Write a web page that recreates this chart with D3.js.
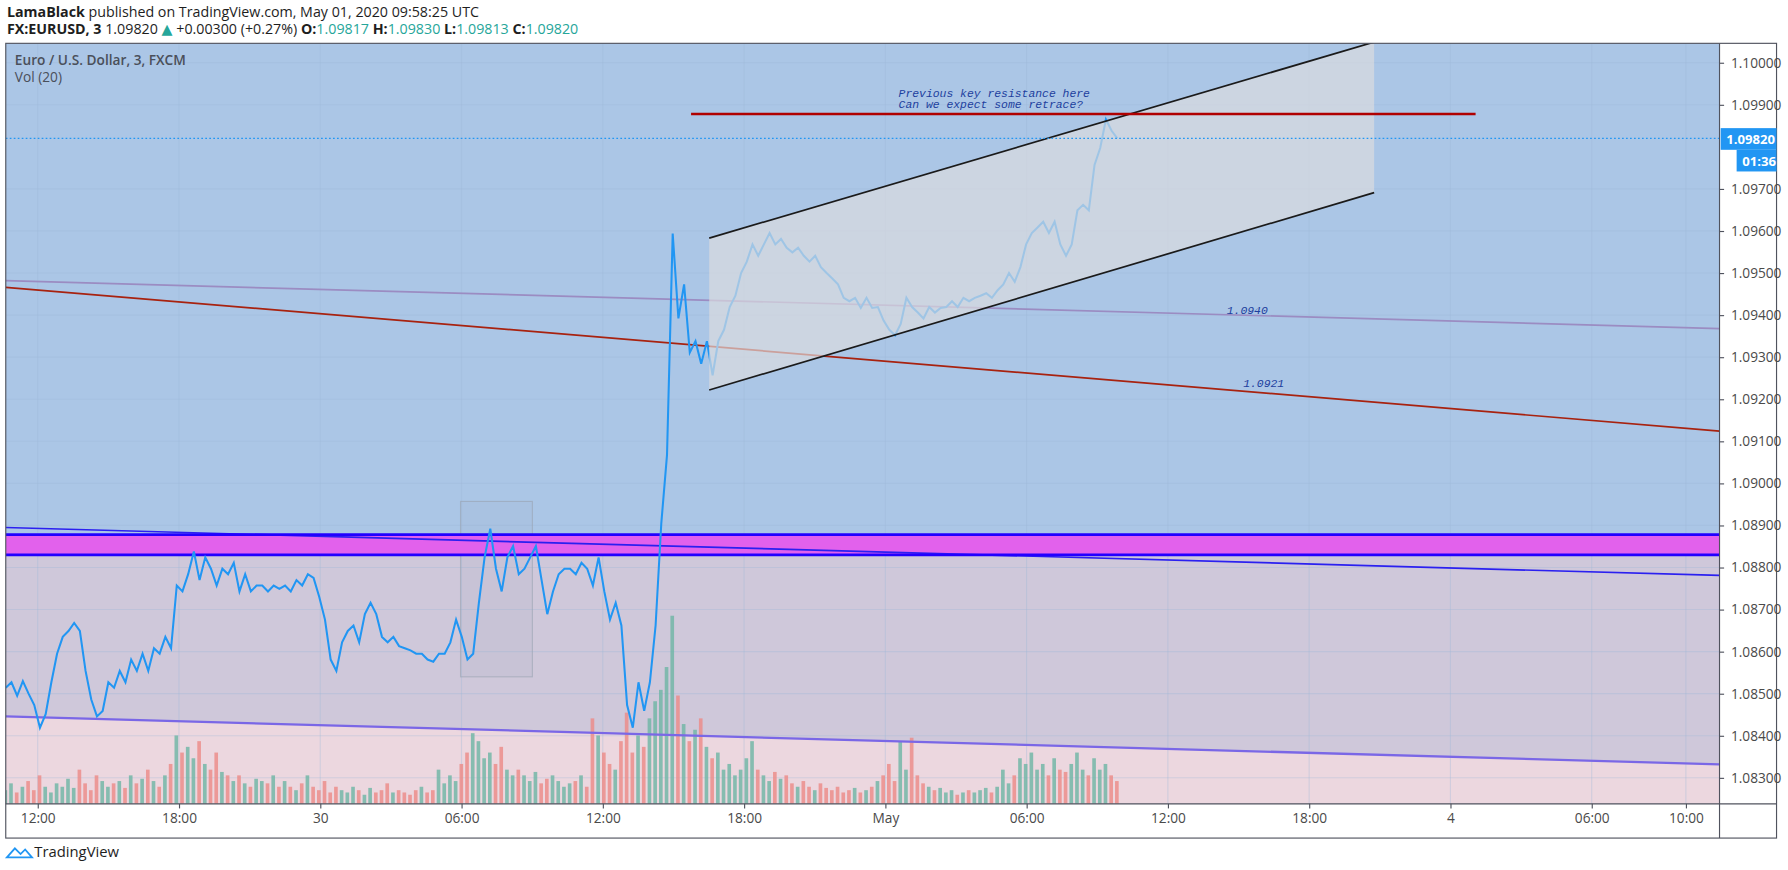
<!DOCTYPE html>
<html>
<head>
<meta charset="utf-8">
<script src="https://cdn.jsdelivr.net/npm/d3@7"></script>
<style>
  body { margin: 0; background: #fff; font-family: "Open Sans", "DejaVu Sans", sans-serif; }
</style>
</head>
<body>
<svg id="chart" width="1788" height="870" viewBox="0 0 1568 763"></svg>
<script>
// EUR/USD 3-min chart, FXCM
const priceTicks = [1.083, 1.084, 1.085, 1.086, 1.087, 1.088, 1.089, 1.090, 1.091, 1.092, 1.093, 1.094, 1.095, 1.096, 1.097, 1.099, 1.100];
const timeTicks = [0, 6, 12, 18, 24, 30, 36, 42, 48, 54, 60, 66, 70];
const timeLabels = ['12:00', '18:00', '30', '06:00', '12:00', '18:00', 'May', '06:00', '12:00', '18:00', '4', '06:00', '10:00'];

// price samples, hours from Apr 29 12:00
const seriesStart = -1.356;
const seriesStep = 0.2421;
const closes = [
  1.08514, 1.08527, 1.08495, 1.0853, 1.0850, 1.08473, 1.08419, 1.08451, 1.08527, 1.08595,
  1.08635, 1.08649, 1.08668, 1.08649, 1.08554, 1.08486, 1.08446, 1.08459, 1.08527, 1.08514,
  1.08554, 1.08527, 1.08581, 1.08554, 1.08595, 1.08554, 1.08608, 1.08595, 1.08635, 1.08608,
  1.08757, 1.08743, 1.08784, 1.08838, 1.0877, 1.08824, 1.08797, 1.08757, 1.08797, 1.08784,
  1.08811, 1.08743, 1.08784, 1.08743, 1.08757, 1.08757, 1.08743, 1.08757, 1.08749, 1.08757,
  1.08743, 1.0877, 1.08757, 1.08784, 1.08775, 1.0873, 1.08676, 1.08581, 1.08554, 1.08622,
  1.08649, 1.08662, 1.08622, 1.08689, 1.08716, 1.08689, 1.08635, 1.08622, 1.08635, 1.08613,
  1.08608, 1.08603, 1.08595, 1.08595, 1.08581, 1.08576, 1.08595, 1.08595, 1.08622, 1.08676,
  1.08635, 1.08581, 1.08595, 1.08716, 1.08824, 1.08892, 1.08797, 1.08743, 1.08824, 1.08851,
  1.08784, 1.08797, 1.08824, 1.08851, 1.0877, 1.08689, 1.08743, 1.08784, 1.08797, 1.08797,
  1.08784, 1.08811, 1.08797, 1.08757, 1.08824, 1.08743, 1.08676, 1.08716, 1.08662, 1.08473,
  1.08419, 1.08527, 1.08459, 1.08527, 1.08662, 1.08905, 1.09067, 1.09594, 1.09392, 1.09473,
  1.09311, 1.09338, 1.09284, 1.09338, 1.09257, 1.09338, 1.09365, 1.09419, 1.09446, 1.0950,
  1.09527, 1.09568, 1.09541, 1.09568, 1.09595, 1.09568, 1.09581, 1.0956, 1.09549, 1.0956,
  1.09541, 1.09527, 1.09541, 1.09514, 1.0950, 1.09487, 1.09473, 1.09441, 1.09433, 1.09441,
  1.09417, 1.09441, 1.09417, 1.09419, 1.09387, 1.09365, 1.09352, 1.09379, 1.09441, 1.09419,
  1.09406, 1.09392, 1.09419, 1.09406, 1.09417, 1.09419, 1.09433, 1.09419, 1.09441, 1.09433,
  1.09441, 1.09446, 1.09452, 1.09441, 1.09459, 1.09473, 1.0950, 1.09479, 1.09514, 1.09568,
  1.09595, 1.09608, 1.09622, 1.09595, 1.09622, 1.09568, 1.09541, 1.09568, 1.09649, 1.09662,
  1.09649, 1.09757, 1.09797, 1.09865, 1.09838, 1.0982
];
const volumes = [
  12, 18, 10, 15, 20, 12, 25, 15, 10, 18,
  15, 22, 14, 30, 18, 12, 25, 20, 15, 18,
  20, 14, 25, 18, 22, 30, 20, 15, 25, 35,
  60, 45, 50, 40, 55, 35, 30, 45, 28, 25,
  20, 25, 18, 15, 22, 20, 18, 25, 15, 20,
  15, 12, 18, 25, 15, 12, 20, 10, 15, 12,
  10, 15, 12, 8, 14, 10, 12, 18, 10, 12,
  10, 8, 12, 15, 10, 12, 30, 18, 25, 20,
  35, 45, 62, 55, 40, 45, 35, 50, 30, 25,
  30, 25, 20, 28, 18, 22, 25, 20, 15, 18,
  20, 25, 15, 75, 60, 45, 35, 30, 55, 80,
  45, 60, 50, 75, 90, 100, 120, 165, 95, 70,
  55, 65, 75, 50, 40, 45, 30, 35, 25, 30,
  40, 55, 30, 25, 20, 28, 22, 25, 18, 15,
  20, 15, 12, 18, 14, 12, 15, 10, 12, 14,
  10, 12, 15, 20, 25, 35, 20, 55, 30, 58,
  25, 18, 15, 12, 14, 10, 12, 8, 10, 12,
  10, 12, 14, 10, 15, 30, 18, 25, 40, 35,
  45, 30, 35, 25, 40, 30, 28, 35, 45, 30,
  25, 40, 30, 35, 25, 20
];

// drawings: [hourStart, priceStart, hourEnd, priceEnd]
const trendBlue = [-1.356, 1.08895, 71.43, 1.08781];
const trendPurple = [-1.356, 1.08446, 71.43, 1.08332];
const trendLilac = [-1.356, 1.09482, 71.43, 1.09368];
const trendRed = [-1.356, 1.09466, 71.43, 1.09124];
const resistance = [27.75, 1.09878, 61.07, 1.09878];
const channelUpper = [28.52, 1.09583, 56.76, 1.10049];
const channelLower = [28.52, 1.09222, 56.76, 1.09691];
const bandTop = 1.08878, bandBottom = 1.08830;
const zoneBox = [17.96, 1.08957, 21.01, 1.08540];
const lastPrice = 1.09820;

const svg = d3.select('#chart');
const L = 5, R = 1508, T = 38, B = 705;
const x = d3.scaleLinear().domain([-1.356, 71.43]).range([L, R]);
const y = d3.scaleLinear().domain([1.08238, 1.10046]).range([B, T]);
const vy = d3.scaleLinear().domain([0, 170]).range([0, 170]);

const defs = svg.append('defs');
defs.append('clipPath').attr('id', 'plot').append('rect')
  .attr('x', L).attr('y', T).attr('width', R - L).attr('height', B - T);

const g = svg.append('g').attr('clip-path', 'url(#plot)');
const lineAt = (seg, h) => seg[1] + (seg[3] - seg[1]) * (h - seg[0]) / (seg[2] - seg[0]);

// background zones
g.append('rect').attr('x', L).attr('y', T).attr('width', R - L).attr('height', y(bandTop) - T).attr('fill', '#abc6e6');
g.append('rect').attr('x', L).attr('y', y(bandBottom)).attr('width', R - L).attr('height', B - y(bandBottom)).attr('fill', '#cfc8da');
g.append('path')
  .attr('d', `M${x(trendPurple[0])},${y(trendPurple[1])}L${x(trendPurple[2])},${y(trendPurple[3])}L${R},${B}L${L},${B}Z`)
  .attr('fill', '#ecd7df');

// grid
g.append('g').selectAll('line').data(priceTicks).join('line')
  .attr('x1', L).attr('x2', R).attr('y1', d => y(d)).attr('y2', d => y(d))
  .attr('stroke', '#9fb6d6').attr('stroke-opacity', 0.35);
g.append('g').selectAll('line').data(timeTicks).join('line')
  .attr('y1', T).attr('y2', B).attr('x1', d => x(d)).attr('x2', d => x(d))
  .attr('stroke', '#9fb6d6').attr('stroke-opacity', 0.35);

// volume
const n = Math.min(closes.length, volumes.length);
const tAt = i => seriesStart + i * seriesStep;
g.append('g').selectAll('rect').data(volumes.slice(0, n)).join('rect')
  .attr('x', (d, i) => x(tAt(i)) - 2)
  .attr('width', 3.2)
  .attr('y', d => B - vy(d))
  .attr('height', d => vy(d))
  .attr('fill', (d, i) => (i === 0 || closes[i] >= closes[i - 1]) ? '#6db5a4' : '#ec8a86')
  .attr('opacity', 0.8);

// gray zone box
g.append('rect')
  .attr('x', x(zoneBox[0])).attr('y', y(zoneBox[1]))
  .attr('width', x(zoneBox[2]) - x(zoneBox[0])).attr('height', y(zoneBox[3]) - y(zoneBox[1]))
  .attr('fill', '#9aa6bb').attr('fill-opacity', 0.12).attr('stroke', '#9aa3b0').attr('stroke-opacity', 0.6);

// magenta band
g.append('rect').attr('x', L).attr('y', y(bandTop)).attr('width', R - L).attr('height', y(bandBottom) - y(bandTop)).attr('fill', '#e261ec');

const seg = (s, color, w, op) => g.append('line')
  .attr('x1', x(s[0])).attr('y1', y(s[1])).attr('x2', x(s[2])).attr('y2', y(s[3]))
  .attr('stroke', color).attr('stroke-width', w).attr('stroke-opacity', op || 1);

seg(trendBlue, '#2b20f0', 1.5);
seg(trendPurple, '#7a67e6', 2);
seg(trendLilac, '#9b8cc2', 1.5);
seg(trendRed, '#a8220f', 1.5);
[bandTop, bandBottom].forEach(p => g.append('line').attr('x1', L).attr('x2', R)
  .attr('y1', y(p)).attr('y2', y(p)).attr('stroke', '#2200ff').attr('stroke-width', 2.5));

// price line
g.append('path').datum(closes.slice(0, n))
  .attr('d', d3.line().x((d, i) => x(tAt(i))).y(d => y(d)))
  .attr('fill', 'none').attr('stroke', '#2196f3').attr('stroke-width', 1.8);

// channel (overlay dims the line inside)
const cx0 = channelUpper[0], cx1 = channelUpper[2];
g.append('path')
  .attr('d', `M${x(cx0)},${y(channelLower[1])}L${x(cx0)},${y(channelUpper[1])}L${x(cx1)},${y(channelUpper[3])}L${x(cx1)},${y(channelLower[3])}Z`)
  .attr('fill', '#dcdcde').attr('fill-opacity', 0.68);
seg(channelUpper, '#1a1a1a', 1.5);
seg(channelLower, '#1a1a1a', 1.5);

seg(resistance, '#b00000', 2);

// last price dotted line
g.append('line').attr('x1', L).attr('x2', R).attr('y1', y(lastPrice)).attr('y2', y(lastPrice))
  .attr('stroke', '#2196f3').attr('stroke-dasharray', '1.5,2');

// annotations
const mono = '"Liberation Mono", "DejaVu Sans Mono", monospace';
svg.append('text').attr('x', 788).attr('y', 85).text('Previous key resistance here')
  .attr('font-family', mono).attr('font-style', 'italic').attr('font-size', 10).attr('fill', '#1d3f9e');
svg.append('text').attr('x', 788).attr('y', 95).text('Can we expect some retrace?')
  .attr('font-family', mono).attr('font-style', 'italic').attr('font-size', 10).attr('fill', '#1d3f9e');
svg.append('text').attr('x', x(50.5)).attr('y', y(lineAt(trendLilac, 50.5)) - 1).text('1.0940')
  .attr('font-family', mono).attr('font-style', 'italic').attr('font-size', 10).attr('fill', '#1d3f9e');
svg.append('text').attr('x', x(51.2)).attr('y', y(lineAt(trendRed, 51.2)) - 4).text('1.0921')
  .attr('font-family', mono).attr('font-style', 'italic').attr('font-size', 10).attr('fill', '#1d3f9e');

// frame
svg.append('rect').attr('x', L).attr('y', T).attr('width', 1558 - L).attr('height', 735 - T)
  .attr('fill', 'none').attr('stroke', '#50535e').attr('stroke-width', 1);
svg.append('line').attr('x1', R).attr('x2', R).attr('y1', T).attr('y2', 735).attr('stroke', '#50535e');
svg.append('line').attr('x1', L).attr('x2', 1558).attr('y1', B).attr('y2', B).attr('stroke', '#50535e');

// axes
const yAxis = svg.append('g').attr('transform', `translate(${R},0)`)
  .call(d3.axisRight(y).tickValues(priceTicks).tickFormat(d3.format('.5f')).tickSize(4).tickPadding(6));
yAxis.select('.domain').remove();
yAxis.selectAll('text').attr('font-size', 12).attr('fill', '#4a4a4a').attr('font-family', '"Open Sans", sans-serif');
yAxis.selectAll('line').attr('stroke', '#50535e');

const xAxis = svg.append('g').attr('transform', `translate(0,${B})`)
  .call(d3.axisBottom(x).tickValues(timeTicks).tickFormat((d, i) => timeLabels[i]).tickSize(4).tickPadding(4));
xAxis.select('.domain').remove();
xAxis.selectAll('text').attr('font-size', 12).attr('fill', '#4a4a4a').attr('font-family', '"Open Sans", sans-serif');
xAxis.selectAll('line').attr('stroke', '#50535e');

// last price tag
svg.append('rect').attr('x', R + 1).attr('y', y(lastPrice) - 9).attr('width', 1558 - R - 1).attr('height', 19).attr('fill', '#2196f3');
svg.append('text').attr('x', R + 6).attr('y', y(lastPrice) + 5).text(d3.format('.5f')(lastPrice))
  .attr('font-size', 11.5).attr('font-weight', 'bold').attr('fill', '#fff');
svg.append('rect').attr('x', R + 15).attr('y', y(lastPrice) + 10).attr('width', 1558 - R - 15).attr('height', 19).attr('fill', '#2196f3');
svg.append('text').attr('x', R + 20).attr('y', y(lastPrice) + 24).text('01:36')
  .attr('font-size', 11.5).attr('font-weight', 'bold').attr('fill', '#fff');

// header
const hdr = svg.append('text').attr('x', 6).attr('y', 15).attr('font-size', 12.5).attr('fill', '#1e1e1e');
hdr.append('tspan').attr('font-weight', 'bold').text('LamaBlack');
hdr.append('tspan').text(' published on TradingView.com, May 01, 2020 09:58:25 UTC');
const h2 = svg.append('text').attr('x', 6).attr('y', 30).attr('font-size', 12.5).attr('fill', '#1e1e1e');
h2.append('tspan').attr('font-weight', 'bold').text('FX:EURUSD, 3');
h2.append('tspan').text('  1.09820 ');
h2.append('tspan').attr('fill', '#26a69a').text('▲');
h2.append('tspan').text(' +0.00300 (+0.27%) ');
[['O:', '1.09817'], ['H:', '1.09830'], ['L:', '1.09813'], ['C:', '1.09820']].forEach(([k, v]) => {
  h2.append('tspan').attr('font-weight', 'bold').text(k);
  h2.append('tspan').attr('fill', '#26a69a').text(v + ' ');
});

svg.append('text').attr('x', 13).attr('y', 57).text('Euro / U.S. Dollar, 3, FXCM')
  .attr('font-size', 12).attr('font-weight', 600).attr('fill', '#4a4f5a');
svg.append('text').attr('x', 13).attr('y', 72).text('Vol (20)').attr('font-size', 12).attr('fill', '#4a4f5a');

// footer logo
svg.append('path').attr('d', 'M6,752 L13,744 L18,749 L22,745 L28,752 Z').attr('fill', 'none').attr('stroke', '#2196f3').attr('stroke-width', 1.6);
svg.append('text').attr('x', 30).attr('y', 752).text('TradingView').attr('font-size', 13).attr('fill', '#1e1e1e');
</script>
</body>
</html>
